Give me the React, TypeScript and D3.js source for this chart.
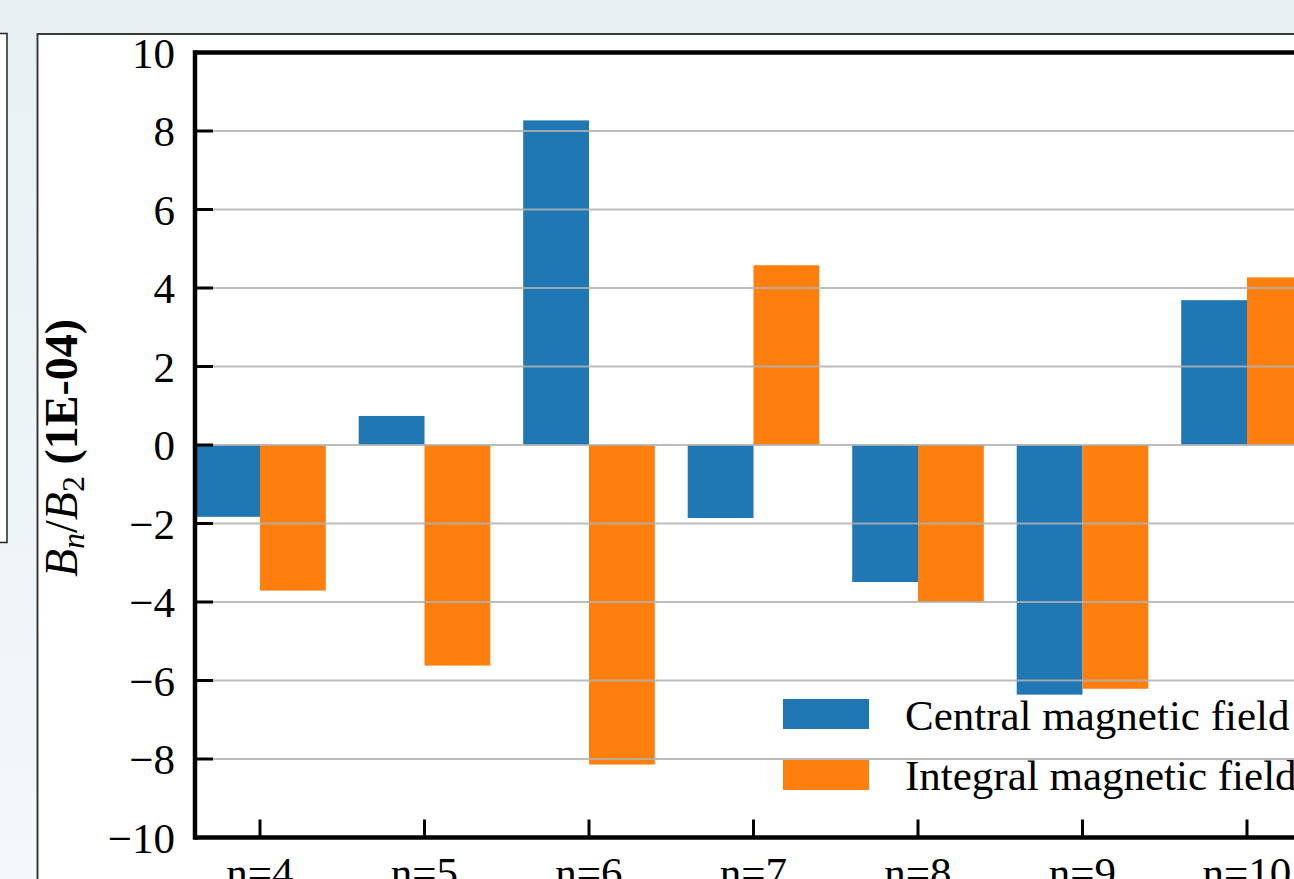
import React from "react";
import * as d3 from "d3";

const categories = ["n=4", "n=5", "n=6", "n=7", "n=8", "n=9", "n=10"];
const central = [-1.83, 0.74, 8.27, -1.86, -3.49, -6.36, 3.69];
const integral = [-3.71, -5.62, -8.14, 4.58, -4.0, -6.21, 4.27];
const yTicks = [-10, -8, -6, -4, -2, 0, 2, 4, 6, 8, 10];
const seriesNames = ["Central magnetic field", "Integral magnetic field"];
const colors = ["#1f77b4", "#ff7f0e"];

const W = 1294;
const H = 879;
const FONT = "'Liberation Serif', 'Times New Roman', serif";

export default function App() {
  const left = 195;
  const top = 52.5;
  const bottom = 837.5;

  const x = d3.scaleLinear().domain([0, categories.length - 1]).range([260, 260 + 164.5 * (categories.length - 1)]);
  const y = d3.scaleLinear().domain([-10, 10]).range([bottom, top]);
  const bw = 0.4;
  const fmt = (v: number) => (v < 0 ? "\u2212" + Math.abs(v) : String(v));

  const series = [central, integral];

  return (
    <svg width={W} height={H} style={{ position: "absolute", left: 0, top: 0 }}>
      <defs>
        <linearGradient id="bg" x1="0" y1="0" x2="0" y2="1">
          <stop offset="0" stopColor="#e7f1f4" />
          <stop offset="1" stopColor="#f3f8fa" />
        </linearGradient>
      </defs>
      <rect x={0} y={0} width={W} height={H} fill="url(#bg)" />
      {/* side panels of the page */}
      <rect x={-10} y={33.5} width={17} height={509} fill="#fff" stroke="#222" strokeWidth={1.5} />
      <rect x={37.5} y={34} width={W} height={H} fill="#fff" stroke="#3a3a3a" strokeWidth={2} />

      {/* bars */}
      {series.map((vals, s) =>
        vals.map((v, i) => {
          const x0 = s === 0 ? x(i - bw) : x(i);
          const x1 = s === 0 ? x(i) : x(i + bw);
          return (
            <rect
              key={`${s}-${i}`}
              x={x0}
              y={Math.min(y(v), y(0))}
              width={x1 - x0}
              height={Math.abs(y(v) - y(0))}
              fill={colors[s]}
            />
          );
        })
      )}

      {/* legend */}
      {seriesNames.map((name, s) => (
        <g key={name}>
          <rect x={783} y={699 + s * 61} width={86} height={30} fill={colors[s]} />
          <text x={905} y={730 + s * 60} fontFamily={FONT} fontSize={43} fill="#000">
            {name}
          </text>
        </g>
      ))}

      {/* grid */}
      {yTicks.map((t) => (
        <line key={t} x1={left} x2={W} y1={y(t)} y2={y(t)} stroke="#b0b0b0" strokeOpacity={0.85} strokeWidth={2.2} />
      ))}

      {/* y ticks + labels */}
      {yTicks.map((t) => (
        <g key={`yt${t}`}>
          <line x1={left} x2={left + 18} y1={y(t)} y2={y(t)} stroke="#000" strokeWidth={3} />
          <text x={175} y={y(t) + 15} textAnchor="end" fontFamily={FONT} fontSize={43} fill="#000">
            {fmt(t)}
          </text>
        </g>
      ))}

      {/* x ticks + labels */}
      {categories.map((c, i) => (
        <g key={c}>
          <line x1={x(i)} x2={x(i)} y1={bottom} y2={bottom - 18} stroke="#000" strokeWidth={3} />
          <text x={x(i)} y={887} textAnchor="middle" fontFamily={FONT} fontSize={43} fill="#000">
            {c}
          </text>
        </g>
      ))}

      {/* spines */}
      <line x1={left} x2={W} y1={top} y2={top} stroke="#000" strokeWidth={4.5} />
      <line x1={left} x2={W} y1={bottom} y2={bottom} stroke="#000" strokeWidth={4.5} />
      <line x1={left} x2={left} y1={top - 2.25} y2={bottom + 2.25} stroke="#000" strokeWidth={4.5} />

      {/* y axis label */}
      <text
        transform="translate(77,448) rotate(-90)"
        textAnchor="middle"
        fontFamily={FONT}
        fontSize={46}
        fill="#000"
      >
        <tspan fontStyle="italic">B</tspan>
        <tspan fontStyle="italic" fontSize={32} dy={7}>n</tspan>
        <tspan dy={-7}>/</tspan>
        <tspan fontStyle="italic">B</tspan>
        <tspan fontSize={32} dy={7}>2</tspan>
        <tspan dy={-7} fontWeight="bold">{" (1E-04)"}</tspan>
      </text>
    </svg>
  );
}
